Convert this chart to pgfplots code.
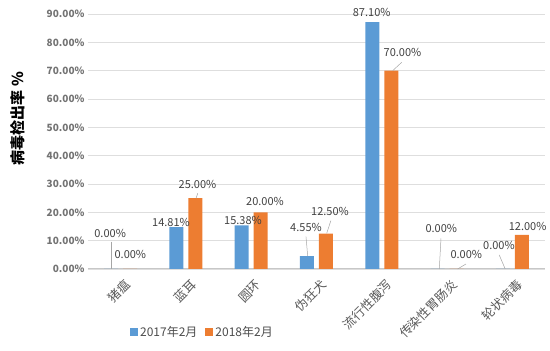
\documentclass[border=0pt]{standalone}
\usepackage{pgfplots}
\usepackage{pgfplotstable}
\pgfplotsset{compat=1.18}
\usepackage{fontspec}
\setmainfont{Noto Sans CJK SC}
\definecolor{cblue}{HTML}{5B9BD5}
\definecolor{corange}{HTML}{ED7D31}
\pgfplotstableread{
x y dx dy
0 0 -1 36
1 14.81 -5.4 4.3
2 15.38 1.3 5.4
3 4.55 -1 28.8
4 87.10 -0.6 9.9
5 0 3.7 40.3
6 0 -3.9 23.7
}\dataA
\pgfplotstableread{
x y dx dy
0 0 0.2 15
1 25 2.1 13.2
2 20 4.3 10.6
3 12.5 4 21.9
4 70 11.2 18.4
5 0 9.7 15
6 12 5.8 9
}\dataB
\begin{document}
\begin{tikzpicture}
\useasboundingbox (0,0) rectangle (550pt,351pt);
\begin{axis}[
 at={(88pt,82pt)}, anchor=south west, scale only axis,
 width=457pt, height=255pt,
 xmin=-0.5, xmax=6.5, ymin=0, ymax=90,
 ybar, bar width=14pt,
 xtick={0,...,6},
 xticklabels={猪瘟,蓝耳,圆环,伪狂犬,流行性腹泻,传染性胃肠炎,轮状病毒},
 xticklabel style={rotate=45, anchor=north east, font=\fontsize{12.5}{12.5}\selectfont, text=black!65, inner sep=1pt, yshift=-5pt},
 ytick={0,10,...,90},
 /pgf/number format/assume math mode=true,
 yticklabel={\pgfmathprintnumber[fixed,fixed zerofill,precision=2]{\tick}\%},
 yticklabel style={font=\fontsize{10}{10}\selectfont\bfseries, text=black!55},
 ymajorgrids, grid style={draw=black!13, line width=0.8pt},
 axis x line*=bottom, axis y line*=left,
 y axis line style={draw=none},
 x axis line style={draw=black!22, line width=1pt, -},
 tick style={draw=none},
 clip=false,
 ylabel={病毒检出率 \%},
 ylabel style={at={(axis description cs:-0.153,0.59)}, anchor=center, font=\fontsize{15}{15}\selectfont\bfseries},
 visualization depends on={\thisrow{dx} \as \dx},
 visualization depends on={\thisrow{dy} \as \dy},
 nodes near coords={\pgfmathprintnumber[fixed,fixed zerofill,precision=2]{\pgfplotspointmeta}\%},
 nodes near coords style={anchor=center, xshift=\dx pt, yshift=\dy pt, font=\fontsize{11}{11}\selectfont, text=black!75},
 legend style={at={(axis description cs:0.2505,-0.247)}, anchor=center, draw=none, fill=none, font=\fontsize{12}{12}\selectfont, text=black!70, legend columns=2, /tikz/every even column/.append style={column sep=6pt}},
 legend image code/.code={\fill[#1] (0pt,-4pt) rectangle (8pt,4pt);},
]
\addplot[fill=cblue, draw=none, bar shift=-9.5pt] table[x=x,y=y] {\dataA};
\addlegendentry{2017年2月}
\addplot[fill=corange, draw=none, bar shift=9.5pt] table[x=x,y=y] {\dataB};
\addlegendentry{2018年2月}
\draw[black!35, line width=0.5pt] (axis cs:-0.147,9.64) -- (axis cs:-0.147,0);
\draw[black!35, line width=0.5pt] (axis cs:2.839,11.4) -- (axis cs:2.865,4.59);
\draw[black!35, line width=0.5pt] (axis cs:4.907,10.84) -- (axis cs:4.881,0);
\draw[black!35, line width=0.5pt] (axis cs:5.799,4.94) -- (axis cs:5.891,0);
\draw[black!35, line width=0.5pt] (axis cs:1.181,26.72) -- (axis cs:1.155,24.95);
\draw[black!35, line width=0.5pt] (axis cs:3.220,17.05) -- (axis cs:3.156,12.6);
\draw[black!35, line width=0.5pt] (axis cs:4.305,72.95) -- (axis cs:4.167,70.0);
\draw[black!35, line width=0.5pt] (axis cs:5.289,1.76) -- (axis cs:5.162,0);
\end{axis}
\end{tikzpicture}
\end{document}
